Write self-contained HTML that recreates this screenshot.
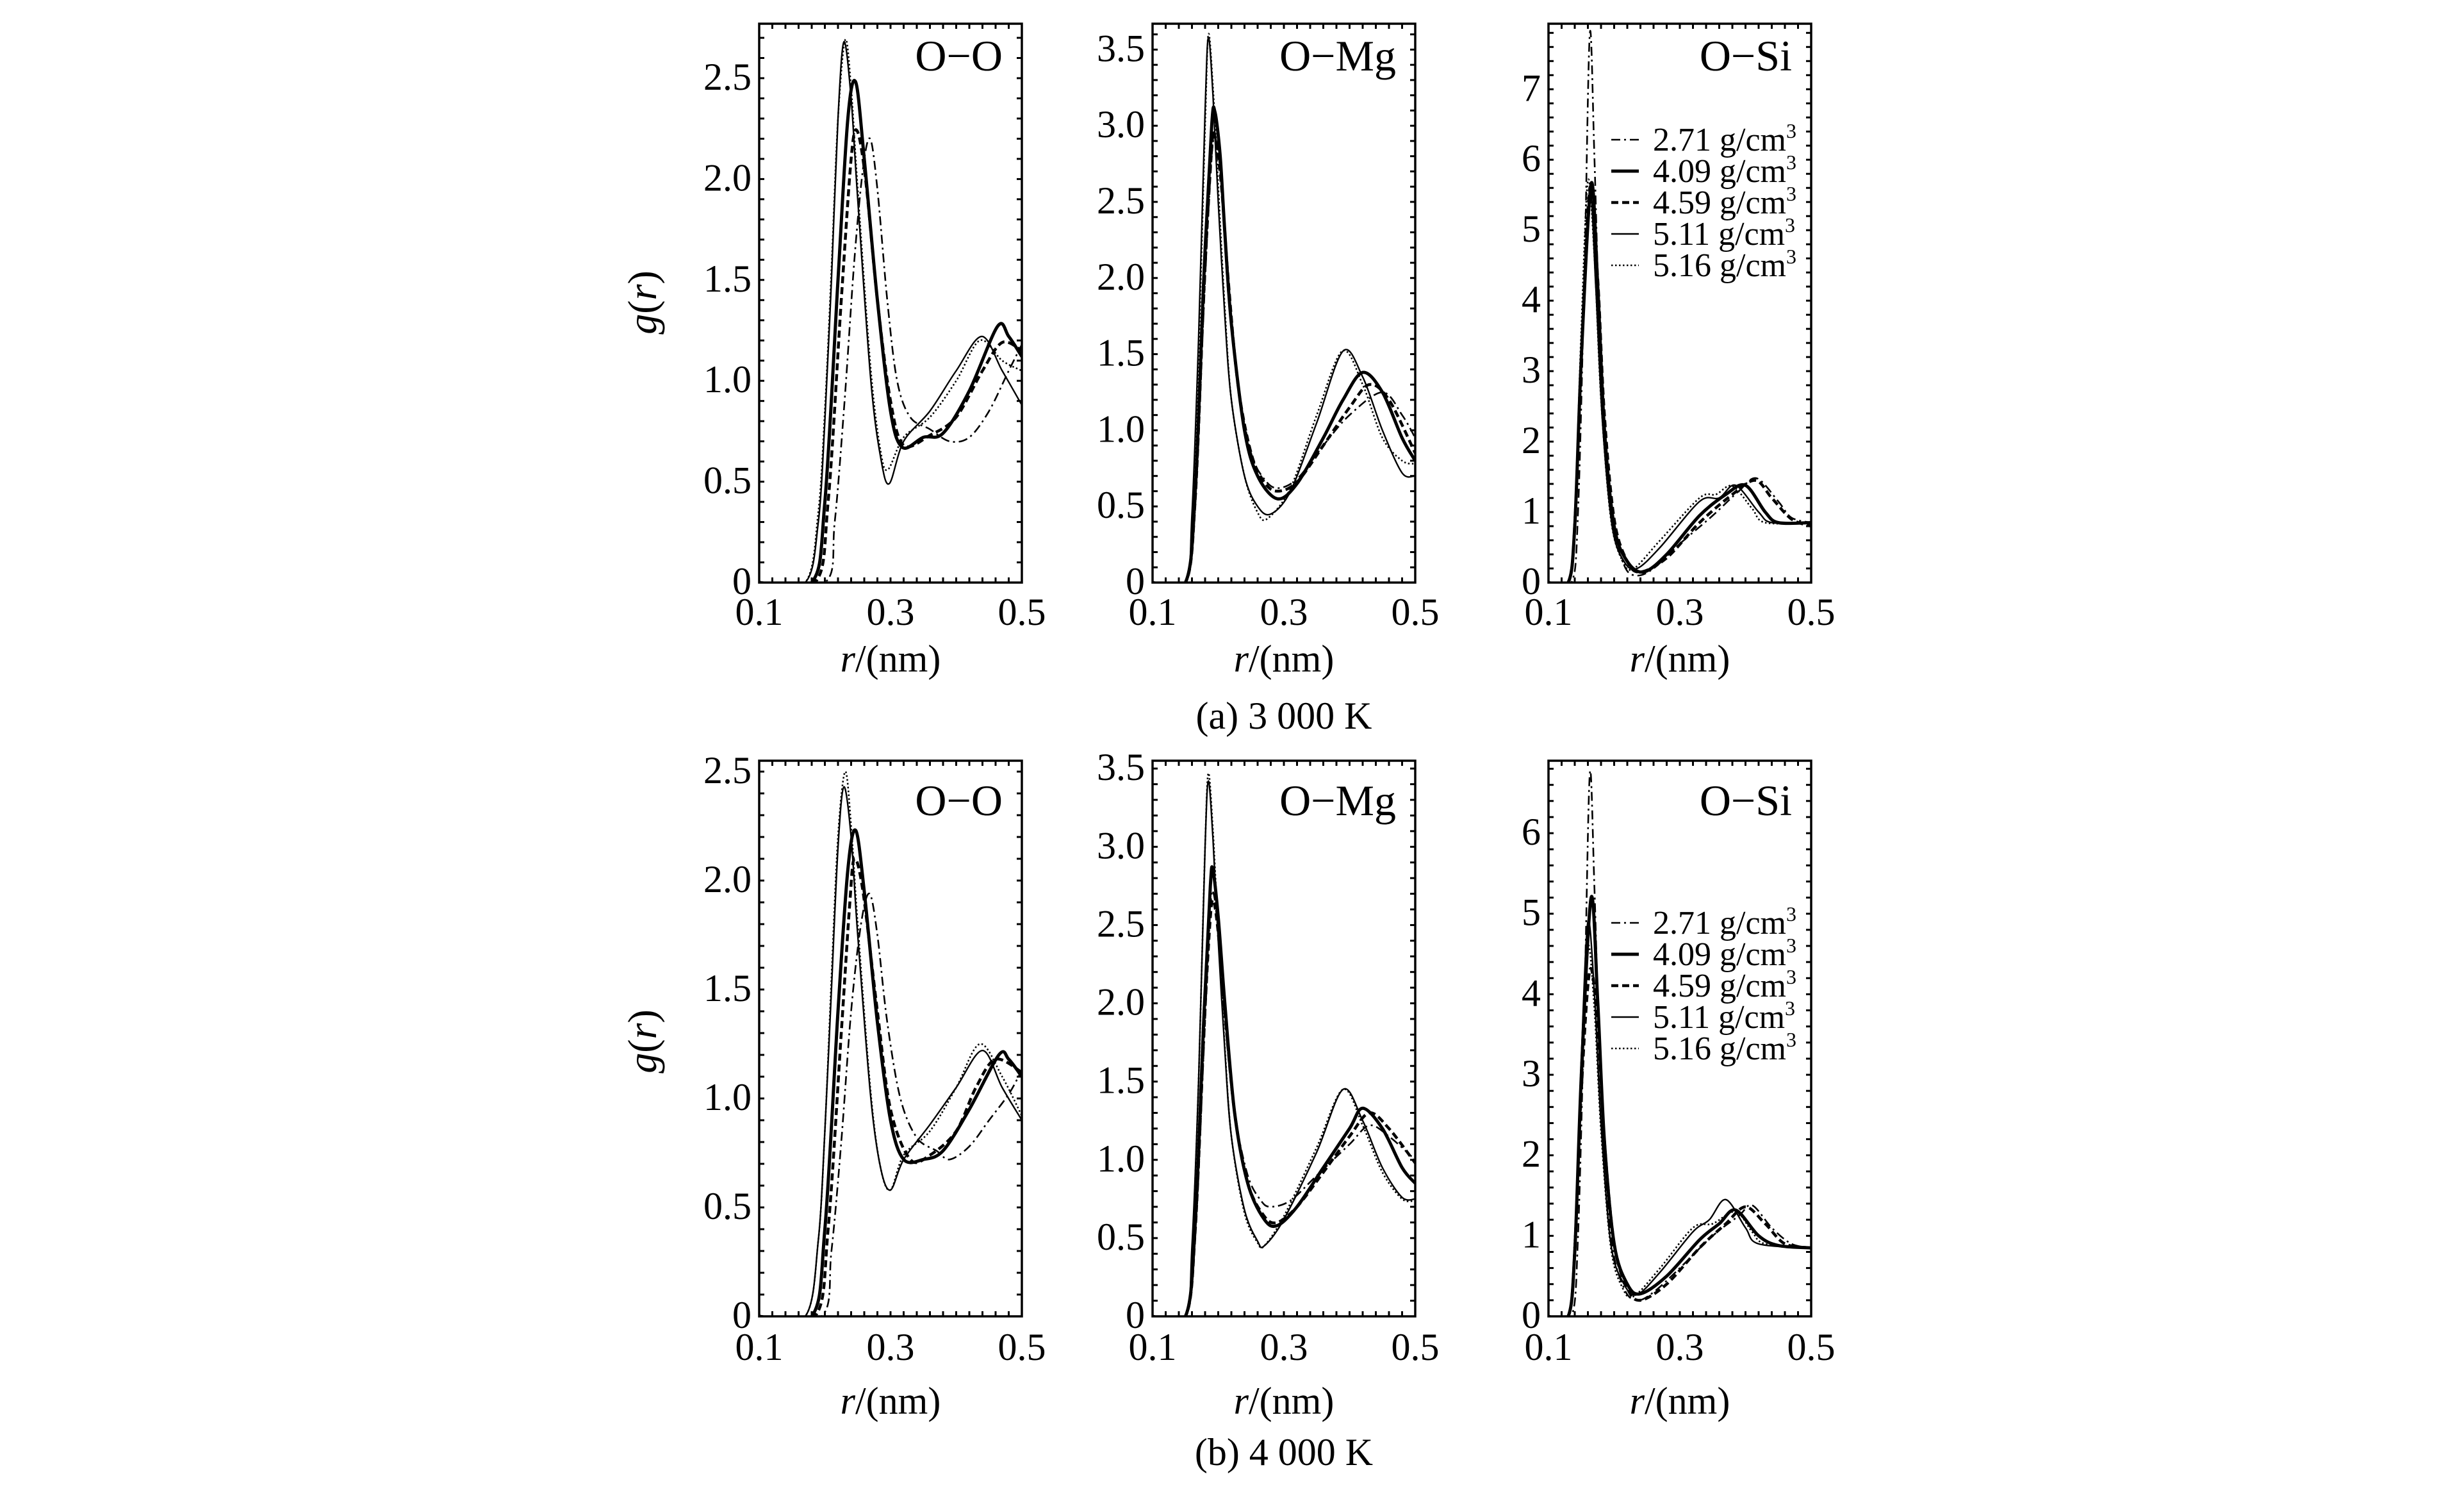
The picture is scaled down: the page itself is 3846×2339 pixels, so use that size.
<!DOCTYPE html>
<html><head><meta charset="utf-8"><style>
html,body{margin:0;padding:0;background:#fff;}
svg{display:block;}
text{font-family:"Liberation Serif",serif;fill:#000;}
</style></head><body>
<svg id="fig" width="3846" height="2339" viewBox="0 0 3846 2339" xmlns="http://www.w3.org/2000/svg"></svg>
<script>
// ---- data (r in nm, g(r)) ----
const seriesLabels = ["2.71 g/cm", "4.09 g/cm", "4.59 g/cm", "5.11 g/cm", "5.16 g/cm"];
const xTicks = [0.1, 0.3, 0.5];
const xTickLabels = ["0.1", "0.3", "0.5"];

// 3000 K, O-O
const oo3_271 = [[0.1,0],[0.2,0],[0.215,0.3],[0.23,0.9],[0.245,1.6],[0.258,2.05],[0.269,2.2],[0.28,1.95],[0.295,1.4],[0.31,1.0],[0.33,0.82],[0.36,0.76],[0.39,0.70],[0.42,0.72],[0.45,0.85],[0.48,1.05],[0.5,1.18]];
const oo3_409 = [[0.1,0],[0.18,0],[0.2,0.4],[0.22,1.5],[0.235,2.3],[0.247,2.48],[0.26,2.1],[0.28,1.4],[0.3,0.85],[0.318,0.67],[0.35,0.72],[0.38,0.74],[0.42,0.95],[0.463,1.27],[0.48,1.22],[0.5,1.12]];
const oo3_459 = [[0.1,0],[0.185,0],[0.205,0.4],[0.225,1.4],[0.24,2.1],[0.249,2.24],[0.262,2.0],[0.28,1.4],[0.3,0.9],[0.32,0.68],[0.36,0.73],[0.4,0.82],[0.44,1.05],[0.47,1.19],[0.5,1.15]];
const oo3_511 = [[0.1,0],[0.17,0],[0.19,0.3],[0.2,0.8],[0.21,1.5],[0.22,2.3],[0.229,2.68],[0.24,2.4],[0.25,1.9],[0.27,1.0],[0.285,0.62],[0.298,0.49],[0.32,0.7],[0.36,0.85],[0.4,1.05],[0.439,1.22],[0.47,1.05],[0.5,0.88]];
const oo3_516 = [[0.1,0],[0.17,0],[0.19,0.35],[0.2,0.85],[0.21,1.55],[0.22,2.3],[0.231,2.69],[0.24,2.45],[0.25,1.95],[0.27,1.05],[0.285,0.65],[0.296,0.56],[0.32,0.72],[0.36,0.82],[0.4,1.0],[0.436,1.2],[0.47,1.1],[0.5,1.05]];
// 3000 K, O-Mg
const om3_271 = [[0.1,0],[0.15,0],[0.165,0.5],[0.178,1.8],[0.19,2.8],[0.197,2.9],[0.205,2.6],[0.215,1.9],[0.23,1.3],[0.25,0.85],[0.27,0.68],[0.29,0.62],[0.32,0.68],[0.36,0.9],[0.4,1.1],[0.45,1.25],[0.48,1.1],[0.5,0.95]];
const om3_409 = [[0.1,0],[0.15,0],[0.165,0.6],[0.178,2.0],[0.19,3.0],[0.195,3.09],[0.203,2.8],[0.21,2.3],[0.22,1.7],[0.24,1.0],[0.26,0.7],[0.29,0.55],[0.32,0.65],[0.36,0.95],[0.39,1.2],[0.42,1.38],[0.45,1.25],[0.48,0.95],[0.5,0.8]];
const om3_459 = [[0.1,0],[0.15,0],[0.165,0.55],[0.178,1.9],[0.19,2.85],[0.195,2.93],[0.205,2.6],[0.215,2.0],[0.23,1.3],[0.25,0.85],[0.27,0.66],[0.29,0.6],[0.32,0.66],[0.36,0.9],[0.4,1.15],[0.43,1.3],[0.46,1.2],[0.5,0.85]];
const om3_511 = [[0.1,0],[0.15,0],[0.16,0.45],[0.17,1.6],[0.18,3.1],[0.185,3.58],[0.192,3.2],[0.2,2.5],[0.21,1.75],[0.22,1.2],[0.24,0.7],[0.26,0.5],[0.28,0.45],[0.31,0.6],[0.35,1.05],[0.39,1.52],[0.42,1.35],[0.45,1.0],[0.48,0.72],[0.5,0.7]];
const om3_516 = [[0.1,0],[0.15,0],[0.16,0.4],[0.17,1.5],[0.18,3.0],[0.185,3.6],[0.192,3.25],[0.2,2.6],[0.21,1.8],[0.22,1.2],[0.24,0.7],[0.26,0.46],[0.275,0.42],[0.31,0.62],[0.35,1.1],[0.389,1.52],[0.42,1.3],[0.45,0.95],[0.48,0.8],[0.5,0.78]];
// 3000 K, O-Si
const os3_271 = [[0.1,0],[0.135,0],[0.145,1.0],[0.155,4.5],[0.163,7.8],[0.17,6.0],[0.18,3.0],[0.195,1.0],[0.215,0.25],[0.234,0.1],[0.26,0.2],[0.3,0.55],[0.35,0.95],[0.39,1.3],[0.417,1.48],[0.45,1.15],[0.47,0.92],[0.5,0.85]];
const os3_409 = [[0.1,0],[0.13,0],[0.14,0.8],[0.15,3.2],[0.165,5.66],[0.175,4.2],[0.185,2.2],[0.2,0.8],[0.22,0.3],[0.245,0.15],[0.28,0.4],[0.33,0.95],[0.37,1.25],[0.4,1.38],[0.43,1.0],[0.45,0.85],[0.5,0.85]];
const os3_459 = [[0.1,0],[0.13,0],[0.14,0.8],[0.15,3.2],[0.163,5.6],[0.175,4.3],[0.185,2.4],[0.2,0.9],[0.22,0.3],[0.24,0.15],[0.28,0.35],[0.33,0.85],[0.38,1.25],[0.415,1.45],[0.44,1.2],[0.47,0.9],[0.5,0.8]];
const os3_511 = [[0.1,0],[0.13,0],[0.14,0.9],[0.15,3.4],[0.163,5.5],[0.172,4.2],[0.182,2.3],[0.197,0.8],[0.215,0.3],[0.235,0.2],[0.27,0.5],[0.33,1.15],[0.36,1.2],[0.385,1.38],[0.42,1.0],[0.44,0.85],[0.5,0.85]];
const os3_516 = [[0.1,0],[0.13,0],[0.14,1.0],[0.15,3.6],[0.16,5.7],[0.17,4.6],[0.18,2.6],[0.195,0.9],[0.213,0.3],[0.23,0.2],[0.27,0.6],[0.33,1.2],[0.355,1.25],[0.38,1.37],[0.41,1.05],[0.43,0.85],[0.5,0.85]];
// 4000 K, O-O
const oo4_271 = [[0.1,0],[0.195,0],[0.21,0.3],[0.225,0.8],[0.24,1.4],[0.255,1.8],[0.268,1.94],[0.28,1.75],[0.295,1.35],[0.315,1.0],[0.34,0.82],[0.37,0.76],[0.39,0.72],[0.42,0.78],[0.45,0.9],[0.48,1.02],[0.5,1.13]];
const oo4_409 = [[0.1,0],[0.18,0],[0.2,0.4],[0.22,1.4],[0.235,2.05],[0.247,2.23],[0.26,1.95],[0.28,1.35],[0.3,0.9],[0.32,0.72],[0.35,0.72],[0.38,0.76],[0.42,0.95],[0.465,1.2],[0.48,1.18],[0.5,1.1]];
const oo4_459 = [[0.1,0],[0.185,0],[0.205,0.4],[0.225,1.3],[0.238,1.9],[0.245,2.1],[0.258,1.95],[0.28,1.4],[0.3,0.95],[0.33,0.72],[0.36,0.74],[0.4,0.85],[0.43,1.05],[0.46,1.18],[0.5,1.12]];
const oo4_511 = [[0.1,0],[0.17,0],[0.19,0.35],[0.2,0.85],[0.21,1.5],[0.22,2.15],[0.229,2.43],[0.24,2.2],[0.25,1.75],[0.27,1.0],[0.285,0.68],[0.3,0.58],[0.32,0.72],[0.36,0.88],[0.4,1.05],[0.44,1.22],[0.47,1.05],[0.5,0.9]];
const oo4_516 = [[0.1,0],[0.17,0],[0.19,0.35],[0.2,0.85],[0.21,1.55],[0.22,2.2],[0.231,2.5],[0.24,2.25],[0.25,1.8],[0.27,1.02],[0.285,0.68],[0.3,0.58],[0.32,0.74],[0.36,0.85],[0.4,1.05],[0.436,1.25],[0.47,1.1],[0.5,0.92]];
// 4000 K, O-Mg
const om4_271 = [[0.1,0],[0.15,0],[0.165,0.5],[0.178,1.7],[0.188,2.6],[0.193,2.7],[0.2,2.45],[0.21,1.9],[0.225,1.3],[0.245,0.9],[0.265,0.74],[0.28,0.7],[0.31,0.74],[0.35,0.9],[0.4,1.1],[0.43,1.22],[0.46,1.15],[0.5,1.0]];
const om4_409 = [[0.1,0],[0.15,0],[0.165,0.6],[0.178,1.9],[0.188,2.75],[0.192,2.85],[0.2,2.55],[0.21,2.0],[0.225,1.3],[0.245,0.85],[0.27,0.62],[0.29,0.58],[0.32,0.7],[0.36,0.95],[0.4,1.2],[0.42,1.33],[0.45,1.2],[0.48,0.95],[0.5,0.85]];
const om4_459 = [[0.1,0],[0.15,0],[0.165,0.55],[0.178,1.8],[0.188,2.55],[0.193,2.65],[0.2,2.45],[0.21,1.95],[0.225,1.3],[0.245,0.85],[0.27,0.64],[0.29,0.6],[0.32,0.7],[0.36,0.92],[0.4,1.15],[0.43,1.3],[0.46,1.2],[0.5,0.98]];
const om4_511 = [[0.1,0],[0.15,0],[0.16,0.45],[0.17,1.5],[0.18,3.0],[0.185,3.42],[0.192,3.05],[0.2,2.4],[0.21,1.7],[0.22,1.15],[0.24,0.68],[0.26,0.48],[0.27,0.45],[0.3,0.62],[0.35,1.05],[0.39,1.45],[0.42,1.25],[0.45,0.95],[0.48,0.76],[0.5,0.75]];
const om4_516 = [[0.1,0],[0.15,0],[0.16,0.4],[0.17,1.5],[0.18,3.0],[0.185,3.47],[0.192,3.1],[0.2,2.45],[0.21,1.72],[0.22,1.15],[0.24,0.66],[0.26,0.47],[0.27,0.45],[0.3,0.64],[0.35,1.08],[0.39,1.45],[0.42,1.22],[0.45,0.92],[0.48,0.75],[0.5,0.74]];
// 4000 K, O-Si
const os4_271 = [[0.1,0],[0.135,0],[0.145,1.0],[0.155,4.0],[0.163,6.75],[0.17,5.3],[0.18,2.8],[0.195,1.0],[0.215,0.35],[0.235,0.2],[0.26,0.3],[0.3,0.6],[0.35,1.0],[0.39,1.25],[0.41,1.38],[0.44,1.1],[0.47,0.9],[0.5,0.85]];
const os4_409 = [[0.1,0],[0.13,0],[0.14,0.8],[0.15,3.0],[0.165,5.2],[0.175,3.9],[0.185,2.2],[0.2,0.9],[0.22,0.4],[0.24,0.28],[0.28,0.5],[0.33,0.95],[0.36,1.15],[0.385,1.32],[0.42,1.0],[0.45,0.88],[0.5,0.85]];
const os4_459 = [[0.1,0],[0.13,0],[0.14,0.8],[0.15,2.8],[0.163,4.3],[0.175,3.6],[0.185,2.2],[0.2,0.9],[0.22,0.35],[0.24,0.2],[0.28,0.4],[0.33,0.85],[0.37,1.15],[0.4,1.36],[0.43,1.15],[0.46,0.9],[0.5,0.85]];
const os4_511 = [[0.1,0],[0.13,0],[0.14,0.9],[0.15,3.2],[0.16,4.9],[0.17,4.0],[0.18,2.4],[0.195,0.9],[0.215,0.4],[0.235,0.27],[0.27,0.55],[0.32,1.05],[0.345,1.2],[0.37,1.45],[0.4,1.1],[0.42,0.9],[0.5,0.85]];
const os4_516 = [[0.1,0],[0.13,0],[0.14,1.0],[0.15,3.2],[0.16,4.6],[0.17,3.8],[0.18,2.3],[0.195,0.85],[0.213,0.35],[0.23,0.25],[0.27,0.6],[0.32,1.1],[0.35,1.15],[0.385,1.3],[0.41,1.05],[0.43,0.9],[0.5,0.85]];

const yTicksOO3 = [0,0.5,1.0,1.5,2.0,2.5];
const yTicksOM = [0,0.5,1.0,1.5,2.0,2.5,3.0,3.5];
const yTicksOS3 = [0,1,2,3,4,5,6,7];
const yTicksOO4 = [0,0.5,1.0,1.5,2.0,2.5];
const yTicksOS4 = [0,1,2,3,4,5,6];

// ---- layout ----
const NS = "http://www.w3.org/2000/svg";
const svg = document.getElementById('fig');
function mk(tag, attrs, parent) {
  const e = document.createElementNS(NS, tag);
  for (const k in attrs) e.setAttribute(k, attrs[k]);
  (parent || svg).appendChild(e);
  return e;
}
const styles = [
  {w: 2.6, dash: "14,6,3,6"},
  {w: 5, dash: ""},
  {w: 4.5, dash: "11,6"},
  {w: 2.4, dash: ""},
  {w: 2.6, dash: "2.5,3.5"}
];
const colsX = [1185, 1799, 2417];
const boxW = 410;
const rows = [{top: 37, bottom: 909, tickBase: 975, titleBase: 1048, capBase: 1137, caption: "(a) 3 000 K", yTitle: 472, nameBase: 110, legTop: 218},
              {top: 1187, bottom: 2054, tickBase: 2122, titleBase: 2206, capBase: 2286, caption: "(b) 4 000 K", yTitle: 1625, nameBase: 1272, legTop: 1440}];
const panels = [
  {row:0,col:0,name:"O\u2212O",ymax:2.77,ticks:yTicksOO3,dec:1,minor:0.1,series:[oo3_271,oo3_409,oo3_459,oo3_511,oo3_516]},
  {row:0,col:1,name:"O\u2212Mg",ymax:3.67,ticks:yTicksOM,dec:1,minor:0.1,series:[om3_271,om3_409,om3_459,om3_511,om3_516]},
  {row:0,col:2,name:"O\u2212Si",ymax:7.93,ticks:yTicksOS3,dec:0,minor:0.2,series:[os3_271,os3_409,os3_459,os3_511,os3_516],legend:true},
  {row:1,col:0,name:"O\u2212O",ymax:2.55,ticks:yTicksOO4,dec:1,minor:0.1,series:[oo4_271,oo4_409,oo4_459,oo4_511,oo4_516]},
  {row:1,col:1,name:"O\u2212Mg",ymax:3.55,ticks:yTicksOM,dec:1,minor:0.1,series:[om4_271,om4_409,om4_459,om4_511,om4_516]},
  {row:1,col:2,name:"O\u2212Si",ymax:6.9,ticks:yTicksOS4,dec:0,minor:0.2,series:[os4_271,os4_409,os4_459,os4_511,os4_516],legend:true}
];
function smoothPath(pts) {
  let d = "M" + pts[0][0].toFixed(1) + "," + pts[0][1].toFixed(1);
  for (let i = 0; i < pts.length - 1; i++) {
    const p0 = pts[Math.max(0,i-1)], p1 = pts[i], p2 = pts[i+1], p3 = pts[Math.min(pts.length-1,i+2)];
    const t = 0.16;
    const c1 = [p1[0] + (p2[0]-p0[0])*t, p1[1] + (p2[1]-p0[1])*t];
    const c2 = [p2[0] - (p3[0]-p1[0])*t, p2[1] - (p3[1]-p1[1])*t];
    d += " C" + c1[0].toFixed(1)+","+c1[1].toFixed(1)+" "+c2[0].toFixed(1)+","+c2[1].toFixed(1)+" "+p2[0].toFixed(1)+","+p2[1].toFixed(1);
  }
  return d;
}
const defs = mk('defs', {});
panels.forEach((p, pi) => {
  const R = rows[p.row];
  const x0 = colsX[p.col], x1 = x0 + boxW, y0 = R.top, y1 = R.bottom;
  const xs = v => x0 + (v - 0.1) / 0.4 * boxW;
  const ys = v => y1 - v / p.ymax * (y1 - y0);
  const g = mk('g', {});
  
  
  const cp = mk('clipPath', {id: 'c' + pi}, defs);
  mk('rect', {x: x0, y: y0, width: boxW, height: y1 - y0}, cp);
  const sg = mk('g', {'clip-path': 'url(#c' + pi + ')'}, g);
  p.series.forEach((s, si) => {
    const pts = s.map(d => [xs(d[0]), ys(d[1])]);
    const path = mk('path', {d: smoothPath(pts), fill: 'none', stroke: '#000', 'stroke-width': styles[si].w, 'stroke-dasharray': styles[si].dash, 'stroke-linejoin': 'round'}, sg);
    
    
  });
  const fr = mk('rect', {x: x0, y: y0, width: boxW, height: y1 - y0, fill: 'none', stroke: '#000', 'stroke-width': 3.5}, g);
  
  
  for (let v = 0.1; v <= 0.5001; v += 0.02) {
    const X = xs(v);
    mk('line', {x1: X, x2: X, y1: y1, y2: y1 - 8, stroke: '#000', 'stroke-width': 3}, g);
    mk('line', {x1: X, x2: X, y1: y0, y2: y0 + 8, stroke: '#000', 'stroke-width': 3}, g);
  }
  for (let v = 0; v <= p.ymax; v += p.minor) {
    const Y = ys(v);
    mk('line', {x1: x0, x2: x0 + 8, y1: Y, y2: Y, stroke: '#000', 'stroke-width': 3}, g);
    mk('line', {x1: x1, x2: x1 - 8, y1: Y, y2: Y, stroke: '#000', 'stroke-width': 3}, g);
  }
  xTicks.forEach((v, i) => {
    const t = mk('text', {x: xs(v), y: R.tickBase, 'font-size': 60, 'text-anchor': 'middle'}, g);
    t.textContent = xTickLabels[i];
    
    
  });
  p.ticks.forEach(v => {
    const t = mk('text', {x: x0 - 12, y: ys(v) + 18, 'font-size': 60, 'text-anchor': 'end'}, g);
    t.textContent = v === 0 ? "0" : v.toFixed(p.dec);
    
    
  });
  const xt = mk('text', {x: x0 + boxW / 2, y: R.titleBase, 'font-size': 60, 'text-anchor': 'middle'}, g);
  xt.innerHTML = '<tspan font-style="italic">r</tspan>/(nm)';
  
  
  const nm = mk('text', {x: x1 - 30, y: R.nameBase, 'font-size': 68, 'text-anchor': 'end'}, g);
  nm.textContent = p.name;
  
  
  if (p.legend) {
    const lg = mk('g', {}, g);
    
    
    seriesLabels.forEach((lab, si) => {
      const Y = R.legTop + si * 49;
      const e = mk('g', {}, lg);
      
      
      mk('line', {x1: 2515, x2: 2558, y1: Y, y2: Y, stroke: '#000', 'stroke-width': styles[si].w, 'stroke-dasharray': styles[si].dash}, e);
      const t = mk('text', {x: 2580, y: Y + 17, 'font-size': 52}, e);
      t.innerHTML = lab + '<tspan font-size="32" dy="-20">3</tspan>';
    });
  }
  if (p.col === 0) {
    const yt = mk('text', {x: 0, y: 0, 'font-size': 64, 'text-anchor': 'middle', transform: 'translate(1024,' + R.yTitle + ') rotate(-90)'}, g);
    yt.innerHTML = '<tspan font-style="italic">g</tspan>(<tspan font-style="italic">r</tspan>)';
    
    
  }
  if (p.col === 1) {
    const ct = mk('text', {x: 2004, y: R.capBase, 'font-size': 60, 'text-anchor': 'middle'}, g);
    ct.textContent = R.caption;
    
    
  }
});
</script>
</body></html>
